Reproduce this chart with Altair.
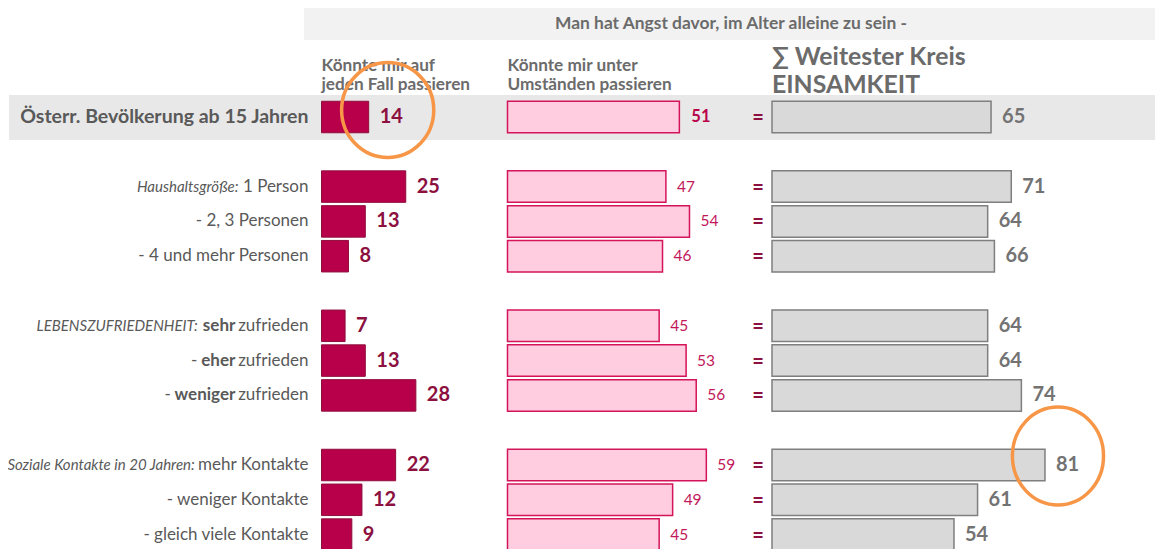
import altair as alt
import pandas as pd

# ---------------- data ----------------
slots = [0, 2, 3, 4, 6, 7, 8, 10, 11, 12]
prefixes = ["", "Haushaltsgröße:", "", "", "LEBENSZUFRIEDENHEIT:", "", "",
            "Soziale Kontakte in 20 Jahren:", "", ""]
labels = ["Österr. Bevölkerung ab 15 Jahren", "1 Person", "- 2, 3 Personen",
          "- 4 und mehr Personen", "**sehr** zufrieden", "- **eher** zufrieden",
          "- **weniger** zufrieden", "mehr Kontakte", "- weniger Kontakte",
          "- gleich viele Kontakte"]
auf_jeden_fall = [14, 25, 13, 8, 7, 13, 28, 22, 12, 9]
unter_umstaenden = [51, 47, 54, 46, 45, 53, 56, 59, 49, 45]
weitester_kreis = [65, 71, 64, 66, 64, 64, 74, 81, 61, 54]
col_headers = [["Könnte mir auf", "jeden Fall passieren"],
               ["Könnte mir unter", "Umständen passieren"],
               ["∑ Weitester Kreis", "EINSAMKEIT"]]
title = "Man hat Angst davor, im Alter alleine zu sein -"
highlights = [(0, 1), (7, 3)]  # (row index, column)

# ---------------- layout ----------------
FONT = "Lato"
W, H = 1147, 541
K = 3.37          # px per percentage point
STEP = 34.8       # px per row slot
HB = 31.5 / 2 / STEP


def ux(px):
    return (px - 8) / K


def uy(py):
    return (py - 117) / STEP


XMAX = W / K
xs = alt.Scale(domain=[0, XMAX], nice=False, zero=False)
ys = alt.Scale(domain=[uy(8), uy(8 + H)], nice=False, zero=False, reverse=True)
C = [ux(321.5), ux(507.5), ux(772)]

GREY_TXT = "#595959"
HEAD_TXT = "#6b6b6b"
DARK_RED = "#8c1040"

CW = {' ': 0.193, 'i': 0.233, 'l': 0.233, 'j': 0.233, 'f': 0.32, 't': 0.351, 'r': 0.362,
      '.': 0.2, ',': 0.2, ':': 0.22, '-': 0.314, 'I': 0.28, 'J': 0.4, 'm': 0.809,
      'w': 0.754, 'M': 0.88, 'W': 0.98, 's': 0.422, 'c': 0.453, 'z': 0.442, 'k': 0.496,
      'v': 0.497, 'y': 0.497, 'x': 0.49, 'g': 0.493, 'ß': 0.55, 'a': 0.473, 'e': 0.505,
      'o': 0.546, 'ö': 0.546, 'n': 0.539, 'h': 0.539, 'u': 0.539, 'd': 0.543,
      'b': 0.543, 'p': 0.536, 'K': 0.6, 'P': 0.6}


def tw(s, size, bold=False):
    w = 0.0
    for ch in s:
        if ch in CW:
            w += CW[ch]
        elif ch.isdigit():
            w += 0.58
        elif ch.isupper():
            w += 0.66
        else:
            w += 0.53
    return w * size * 1.02 * (1.03 if bold else 1.0)


rows = pd.DataFrame({"slot": slots, "v1": auf_jeden_fall, "v2": unter_umstaenden,
                     "v3": weitester_kreis})

# row-label segments
X_R = 308.5
SIZE_LAB = 17
SIZE_PRE = 15
GAP = 4.0
segs = []
for i, (slot, pre, lab) in enumerate(zip(slots, prefixes, labels)):
    if i == 0:
        segs.append({"slot": slot, "t": lab, "x": ux(X_R), "style": "head"})
        continue
    pieces = lab.split("**")
    words = []
    for j, p in enumerate(pieces):
        for w_ in p.split():
            words.append((w_, j % 2 == 1))
    runs = []
    for w_, b in words:
        if runs and runs[-1][1] == b:
            runs[-1][0] += " " + w_
        else:
            runs.append([w_, b])
    cur = X_R
    for txt, b in reversed(runs):
        segs.append({"slot": slot, "t": txt, "x": ux(cur), "style": "bold" if b else "reg"})
        cur -= tw(txt, SIZE_LAB, b) + GAP
    if pre:
        segs.append({"slot": slot, "t": pre, "x": ux(cur - 1), "style": "ital"})
segs = pd.DataFrame(segs)


def X(f):
    return alt.X(f, type="quantitative", scale=xs, axis=None)


def Y(f):
    return alt.Y(f, type="quantitative", scale=ys, axis=None)


layers = []

# header band
hdr = pd.DataFrame({"x0": [ux(304)], "x1": [ux(1158)], "y0": [uy(6)], "y1": [uy(40)],
                    "xc": [ux(731)], "yc": [uy(24)], "t": [title]})
layers.append(alt.Chart(hdr).mark_rect(fill="#f2f2f2").encode(
    x=X("x0"), x2="x1", y=Y("y0"), y2="y1"))
layers.append(alt.Chart(hdr).mark_text(font=FONT, fontSize=17.4, fontWeight="bold",
                                       color=HEAD_TXT, align="center", baseline="middle").encode(
    x=X("xc"), y=Y("yc"), text="t:N"))

# column headers
ch = []
for ci, (l1, l2) in enumerate(col_headers):
    big = ci == 2
    ch.append({"x": C[ci], "y": uy(58 if big else 65.5), "t": l1, "big": big})
    ch.append({"x": C[ci], "y": uy(86 if big else 84.5), "t": l2, "big": big})
ch = pd.DataFrame(ch)
layers.append(alt.Chart(ch).transform_filter("!datum.big").mark_text(
    font=FONT, fontSize=17.2, fontWeight="bold", color=HEAD_TXT, align="left",
    baseline="middle").encode(x=X("x"), y=Y("y"), text="t:N"))
layers.append(alt.Chart(ch).transform_filter("datum.big").mark_text(
    font=FONT, fontSize=24.8, fontWeight="bold", color=HEAD_TXT, align="left",
    baseline="middle").encode(x=X("x"), y=Y("y"), text="t:N"))

# total row band
band = pd.DataFrame({"x0": [ux(9)], "x1": [XMAX], "y0": [uy(95)], "y1": [uy(140)]})
layers.append(alt.Chart(band).mark_rect(fill="#e8e8e8").encode(
    x=X("x0"), x2="x1", y=Y("y0"), y2="y1"))

# bars
styles = [("v1", C[0], "#b8004a", "#8e0d3c", 1.0),
          ("v2", C[1], "#ffcce0", "#d4145a", 1.5),
          ("v3", C[2], "#d9d9d9", "#7f7f7f", 1.5)]
for field, start, fill, stroke, sw in styles:
    layers.append(alt.Chart(rows).transform_calculate(
        x0=f"{start}", x1=f"{start} + datum.{field}",
        y0=f"datum.slot - {HB}", y1=f"datum.slot + {HB}"
    ).mark_rect(fill=fill, stroke=stroke, strokeWidth=sw).encode(
        x=X("x0"), x2="x1", y=Y("y0"), y2="y1"))

# value labels
layers.append(alt.Chart(rows).transform_calculate(xe=f"{C[0]} + datum.v1").mark_text(
    font=FONT, fontSize=20, fontWeight="bold", color=DARK_RED, align="left",
    baseline="middle", dx=11).encode(x=X("xe"), y=Y("slot"), text="v1:Q"))
layers.append(alt.Chart(rows).transform_filter("datum.slot > 0").transform_calculate(
    xe=f"{C[1]} + datum.v2").mark_text(
    font=FONT, fontSize=15.5, color="#c2185b", align="left", baseline="middle", dx=11).encode(
    x=X("xe"), y=Y("slot"), text="v2:Q"))
layers.append(alt.Chart(rows).transform_filter("datum.slot == 0").transform_calculate(
    xe=f"{C[1]} + datum.v2").mark_text(
    font=FONT, fontSize=16.5, fontWeight="bold", color="#b8004a", align="left",
    baseline="middle", dx=12).encode(x=X("xe"), y=Y("slot"), text="v2:Q"))
layers.append(alt.Chart(rows).transform_calculate(xe=f"{C[2]} + datum.v3").mark_text(
    font=FONT, fontSize=20, fontWeight="bold", color="#737373", align="left",
    baseline="middle", dx=11).encode(x=X("xe"), y=Y("slot"), text="v3:Q"))

# equals signs
layers.append(alt.Chart(rows).transform_calculate(xq=f"{ux(758)}", t="'='").mark_text(
    font=FONT, fontSize=20, fontWeight="bold", color=DARK_RED, align="center",
    baseline="middle", dy=1).encode(x=X("xq"), y=Y("slot"), text="t:N"))

# row labels
seg_styles = {"head": dict(fontSize=19.5, fontWeight="bold"),
              "reg": dict(fontSize=SIZE_LAB),
              "bold": dict(fontSize=SIZE_LAB, fontWeight="bold"),
              "ital": dict(fontSize=SIZE_PRE, fontStyle="italic")}
for st, kw in seg_styles.items():
    layers.append(alt.Chart(segs).transform_filter(f"datum.style == '{st}'").mark_text(
        font=FONT, color=GREY_TXT, align="right", baseline="middle", **kw).encode(
        x=X("x"), y=Y("slot"), text="t:N"))

# highlight circles
vals = [auf_jeden_fall, unter_umstaenden, weitester_kreis]
circ_layout = [dict(dx=19, dy=-7, ratio=0.97, d=95), dict(dx=13, dy=-9, ratio=0.93, d=98)]
for (ri, col), lay in zip(highlights, circ_layout):
    cdf = pd.DataFrame({"slot": [slots[ri]], "xe": [C[col - 1] + vals[col - 1][ri]]})
    r = lay["ratio"]
    shape = f"M -{r} 0 A {r} 1 0 1 0 {r} 0 A {r} 1 0 1 0 -{r} 0 Z"
    layers.append(alt.Chart(cdf).mark_point(
        shape=shape, size=lay["d"] ** 2, filled=False, stroke="#f79646", strokeWidth=3.5,
        opacity=1, xOffset=lay["dx"], yOffset=lay["dy"]).encode(x=X("xe"), y=Y("slot")))

chart = alt.layer(*layers).properties(
    width=W, height=H, padding=0,
    autosize=alt.AutoSizeParams(type="none"),
).configure_view(stroke=None)

chart.save("out.html", embed_options={"renderer": "svg", "actions": False})
